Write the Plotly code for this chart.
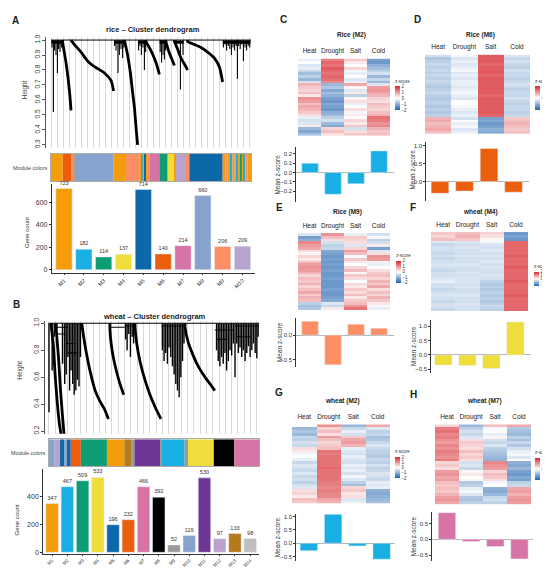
import plotly.graph_objects as go
import numpy as np

FONT = "Liberation Sans, Arial, Helvetica, sans-serif"
W, H = 550, 568

# ---------------- data ----------------
conditions = ["Heat", "Drought", "Salt", "Cold"]

rice_modules = ["M1", "M2", "M3", "M4", "M5", "M6", "M7", "M8", "M9", "M10"]
rice_counts = [723, 182, 114, 137, 714, 140, 214, 660, 206, 209]

wheat_modules = ["M1", "M2", "M3", "M4", "M5", "M6", "M7", "M8", "M9", "M10",
                 "M11", "M12", "M13", "M14"]
wheat_counts = [347, 467, 509, 533, 196, 232, 466, 392, 52, 119, 530, 97, 133, 98]

# module colour strips under the dendrograms (module, relative width)
rice_strip_modules = ["M1", "M6", "M9", "M1", "M8", "M1", "M9", "M1", "M2", "M9", "M5",
                      "M1", "M9", "M7", "M3", "M4", "M1", "M10", "M9", "M5", "M1", "M9",
                      "M1", "M2", "M1", "M9", "M2", "M1", "M3", "M1", "M2", "M9", "M1"]
rice_strip_widths = [35, 25, 6, 4, 118, 37, 40, 6, 4, 6, 4, 5, 5, 30, 25, 20, 5, 30, 10,
                     100, 9, 6, 9, 5, 6, 6, 4, 9, 3, 6, 5, 6, 11]

wheat_strip_modules = ["M10", "M12", "M5", "M10", "M5", "M6", "M3", "M1", "M13", "M9",
                       "M11", "M9", "M2", "M9", "M4", "M8", "M7"]
wheat_strip_widths = [17, 16, 12, 8, 12, 30, 78, 52, 20, 10, 78, 4, 68, 10, 77, 61, 74]

# rice dendrogram (leaf position 0-100, height)
rice_cascade_x = [[5.8, 6.5, 7.5, 8.5, 9.5, 10.0],
                  [10.0, 11.7, 15.0, 18.3, 20.8, 23.3, 26.7, 30.0, 31.3],
                  [36.7, 38.3, 39.7, 40.8, 41.7, 42.5, 43.3],
                  [47.5, 50.0, 52.5, 54.2],
                  [57.5, 59.0, 60.5, 61.7],
                  [61.7, 63.0, 65.0, 66.7, 68.3],
                  [68.3, 71.7, 75.0, 78.3, 81.7, 84.2, 85.8]]
rice_cascade_h = [[0.99, 0.93, 0.85, 0.75, 0.62, 0.53],
                  [1.0, 0.97, 0.92, 0.86, 0.83, 0.81, 0.78, 0.73, 0.66],
                  [1.0, 0.90, 0.78, 0.65, 0.55, 0.42, 0.30],
                  [0.99, 0.93, 0.85, 0.77],
                  [0.99, 0.92, 0.87, 0.83],
                  [0.99, 0.95, 0.88, 0.84, 0.80],
                  [0.99, 0.97, 0.95, 0.92, 0.88, 0.82, 0.72]]
rice_spike_x = [[0.5, 1.2, 1.8, 2.5, 3.2, 3.8, 4.5, 5.2],
                [31.8, 32.5, 33.5, 34.2, 35.0, 35.8, 36.4],
                [43.8, 44.5, 45.2, 46.0, 46.7, 47.3],
                [54.6, 55.3, 56.0, 56.7, 57.3],
                [62.5, 64.7, 66.0],
                [86.2, 87.0, 87.8, 88.6, 89.4, 90.2, 91.0, 91.8, 92.6, 93.2],
                [93.8, 94.6, 95.4, 96.2, 97.0, 97.8, 98.6, 99.4]]
rice_spike_h = [[0.95, 0.52, 0.93, 0.90, 0.78, 0.94, 0.92, 0.95],
                [0.96, 0.93, 0.78, 0.90, 0.94, 0.88, 0.95],
                [0.93, 0.96, 0.90, 0.95, 0.80, 0.92],
                [0.92, 0.85, 0.90, 0.87, 0.93],
                [0.95, 0.67, 0.90],
                [0.95, 0.97, 0.93, 0.96, 0.94, 0.90, 0.95, 0.93, 0.96, 0.74],
                [0.96, 0.94, 0.97, 0.86, 0.95, 0.93, 0.96, 0.95]]

# wheat dendrogram
wheat_cascade_x = [[1.0, 2.0, 3.0, 4.0, 5.0, 5.8],
                   [3.5, 4.5, 5.5, 6.5, 7.2],
                   [15.6, 16.5, 17.8, 19.8, 22.0, 24.3, 26.5, 28.3],
                   [29.0, 29.6, 30.6, 32.2, 33.8, 35.6],
                   [41.0, 41.8, 43.3, 45.7, 48.1, 50.5, 53.3],
                   [64.8, 66.3, 68.7, 71.1, 74.3, 76.7, 79.0]]
wheat_cascade_h = [[0.99, 0.85, 0.60, 0.40, 0.25, 0.17],
                   [0.95, 0.75, 0.50, 0.30, 0.17],
                   [1.0, 0.90, 0.78, 0.63, 0.50, 0.42, 0.36, 0.29],
                   [0.96, 0.85, 0.75, 0.64, 0.55, 0.47],
                   [0.97, 0.85, 0.72, 0.58, 0.47, 0.38, 0.29],
                   [0.97, 0.86, 0.76, 0.68, 0.60, 0.55, 0.50]]
wheat_spike_x = [[0.0, 1.5, 2.5, 6.5, 7.5, 8.2, 9.0, 9.8, 10.5, 11.3, 12.0, 12.8, 13.5, 14.3, 15.0],
                 [36.5, 37.2, 38.0, 38.8, 39.6, 40.3],
                 [54.0, 54.8, 55.6, 56.4, 57.2, 58.0, 58.8, 59.6, 60.4, 61.2, 62.0, 62.8, 63.6, 64.3],
                 [79.8, 80.6, 81.4, 82.2, 83.0, 83.8, 84.6, 85.4, 86.2, 87.0, 87.8],
                 [88.6, 89.4, 90.2, 91.0, 91.8, 92.6, 93.4, 94.2, 95.0, 95.8, 96.6, 97.4, 98.2, 99.0, 99.6]]
wheat_spike_h = [[0.34, 0.65, 0.90, 0.70, 0.55, 0.62, 0.75, 0.50, 0.65, 0.55, 0.47, 0.50, 0.58, 0.53, 0.75],
                 [0.88, 0.80, 0.92, 0.75, 0.90, 0.85],
                 [0.80, 0.72, 0.78, 0.70, 0.82, 0.75, 0.68, 0.62, 0.55, 0.50, 0.45, 0.60, 0.72, 0.85],
                 [0.80, 0.72, 0.68, 0.75, 0.70, 0.78, 0.65, 0.72, 0.80, 0.76, 0.85],
                 [0.60, 0.85, 0.78, 0.82, 0.75, 0.80, 0.72, 0.78, 0.83, 0.75, 0.80, 0.85, 0.78, 0.74, 0.90]]
wheat_link_x0 = [2.5, 4.0, 8.0, 9.0, 29.0, 36.0, 53.5, 79.0, 80.0, 88.6, 89.0]
wheat_link_x1 = [9.0, 8.0, 12.0, 14.0, 36.0, 41.0, 64.5, 88.0, 85.0, 100.0, 96.0]
wheat_link_h = [0.97, 0.92, 0.85, 0.78, 0.97, 0.98, 0.98, 0.95, 0.88, 0.98, 0.90]

# heatmap rows (Heat, Drought, Salt, Cold)
c_rows = [[-0.2, 1.2, 0.5, -1.2], [0.0, 1.4, 0.2, -1.3], [-0.3, 1.3, 0.0, -1.0], [-0.2, 1.5, 0.4, -0.8],
          [-0.5, 1.4, -0.1, -0.6], [-0.8, 1.3, -0.2, -0.4], [-0.6, 1.4, 0.0, -0.9], [-0.9, 1.3, -0.3, -0.5],
          [-0.4, 1.1, -0.2, -0.9], [0.7, -0.9, 0.8, -0.3], [0.5, -0.7, 0.1, 0.9], [0.4, -1.1, -0.3, 1.0],
          [0.6, -0.8, 0.2, 0.8], [0.2, -1.0, -0.6, 0.7], [1.0, -1.2, 0.1, 0.4], [0.9, -1.3, 0.3, 0.3],
          [0.6, -1.1, -0.2, 0.6], [0.8, -1.2, 0.0, 0.5], [0.7, -1.3, 0.3, 0.4], [0.5, -1.0, -0.1, 0.6],
          [0.3, -0.9, 0.2, 0.7], [-0.2, -0.6, 0.0, 1.3], [-0.4, -0.4, 0.4, 1.2], [-0.3, -0.9, 0.2, 1.0],
          [0.2, -1.1, 0.5, 1.1], [-0.9, 0.4, -0.4, 0.7], [-1.1, 0.6, 0.3, 0.5], [-0.8, 0.3, 0.5, 0.6]]
d_rows = [[-0.4, -0.1, 1.5, -0.3], [-0.7, -0.3, 1.5, -0.5], [-0.6, -0.2, 1.5, -0.4], [-0.5, -0.3, 1.4, -0.5],
          [-0.6, -0.2, 1.5, -0.6], [-0.5, -0.1, 1.5, -0.4], [-0.6, -0.3, 1.5, -0.5], [-0.5, -0.2, 1.4, -0.5],
          [-0.6, -0.3, 1.5, -0.6], [-0.5, -0.2, 1.5, -0.5], [-0.6, -0.2, 1.5, -0.4], [-0.7, -0.3, 1.5, -0.5],
          [-0.6, -0.2, 1.5, -0.6], [-0.5, -0.1, 1.5, -0.5], [-0.6, -0.2, 1.4, -0.5], [-0.7, -0.3, 1.5, -0.4],
          [-0.6, 0.0, 1.5, -0.5], [-0.6, 0.0, 1.5, -0.6], [-0.7, -0.1, 1.5, -0.5], [-0.6, -0.2, 1.5, -0.5],
          [-0.7, -0.3, 1.5, -0.6], [-0.6, -0.2, 1.4, -0.5], [0.7, -0.4, -1.2, 0.5], [0.8, 0.0, -1.1, 0.6],
          [0.6, -0.2, -1.3, 0.7], [0.7, -0.1, -1.2, 0.6], [0.8, -0.3, -1.0, 0.5], [0.6, -0.2, -1.1, 0.6]]
e_rows = [[-0.3, 1.0, -0.2, -0.4], [-1.2, 0.6, 0.5, -0.1], [-1.0, 0.3, 0.4, -0.6], [1.1, -0.4, 0.3, -0.4],
          [0.9, -0.6, -0.3, 0.2], [0.8, -0.5, 0.4, -1.2], [0.3, -1.1, 0.9, -0.3], [0.1, -1.2, 0.6, 0.3],
          [0.4, -1.3, -0.1, 1.0], [0.2, -1.2, 0.5, 0.9], [0.6, -1.3, 0.2, 0.1], [0.9, -1.2, 0.0, -0.2],
          [1.0, -1.3, 0.4, 0.0], [0.9, -1.2, 0.6, 0.3], [0.7, -1.3, 0.1, 0.5], [0.4, -1.3, 0.5, 0.6],
          [0.6, -1.2, 0.3, 0.4], [0.5, -1.3, 0.0, 0.7], [0.7, -1.3, 0.4, 0.5], [0.4, -1.3, 0.2, 0.8],
          [0.6, -1.2, 0.5, 0.3], [0.8, -1.3, 0.3, 0.6], [0.5, -1.3, 0.6, 0.4], [0.7, -1.2, 0.2, 0.7],
          [0.6, -1.1, 0.5, 0.5], [-0.6, -0.3, 0.6, 0.2], [-0.8, -0.5, 1.0, -0.1], [-0.7, 0.2, 1.3, -0.2]]
f_rows = [[0.5, 0.6, 0.4, -1.3], [0.4, 0.7, 0.3, -1.2], [0.6, 0.5, 0.1, -1.3], [-0.3, -0.3, -0.1, 1.4],
          [-0.5, -0.4, -0.3, 1.4], [-0.4, -0.3, -0.4, 1.4], [-0.4, -0.4, -0.3, 1.4], [-0.5, -0.4, -0.4, 1.4],
          [-0.4, -0.3, -0.3, 1.5], [-0.5, -0.4, -0.4, 1.4], [-0.4, -0.4, -0.3, 1.4], [-0.3, -0.3, -0.4, 1.4],
          [-0.4, -0.4, -0.3, 1.5], [-0.5, -0.4, -0.4, 1.4], [-0.4, -0.3, -0.4, 1.4], [-0.4, -0.4, -0.3, 1.4],
          [-0.3, -0.3, -0.4, 1.4], [-0.2, -0.3, -0.6, 1.5], [-0.4, -0.4, -0.7, 1.4], [-0.4, -0.3, -0.6, 1.4],
          [-0.5, -0.4, -0.7, 1.4], [-0.4, -0.4, -0.6, 1.4], [-0.3, -0.3, -0.7, 1.5], [-0.4, -0.4, -0.6, 1.4],
          [-0.5, -0.4, -0.7, 1.4], [-0.4, -0.3, -0.6, 1.4], [-0.4, -0.4, -0.5, 1.4], [-0.5, -0.4, -0.6, 1.4]]
g_rows = [[0.0, 1.0, -0.9, 0.8], [-0.9, 0.4, -0.5, -0.3], [-0.7, 0.6, -0.2, -0.6], [-0.9, 0.3, -0.4, -0.5],
          [-0.5, 0.9, 0.5, -0.8], [-0.6, 0.6, 0.8, -0.7], [-0.4, 0.4, 0.9, -0.5], [-0.5, 0.5, 0.7, -0.3],
          [0.3, 0.6, -0.2, -0.5], [0.2, 1.3, -0.3, -0.6], [-0.1, 1.2, -0.4, -0.6], [0.0, 1.3, -0.2, -0.7],
          [-0.2, 1.3, -0.3, -0.5], [-0.5, 1.3, -0.4, -0.6], [-0.3, 1.3, -0.2, -0.4], [-0.4, 1.4, -0.3, -0.6],
          [-0.5, 1.3, -0.2, -0.5], [-0.3, 1.3, -0.4, -0.3], [-0.5, 1.3, -0.1, -0.4], [-0.4, 1.3, -0.3, -0.5],
          [-0.6, 1.2, -0.6, -0.2], [-0.4, 1.2, -0.8, -0.3], [-0.3, 1.1, 0.4, -0.2], [0.3, 1.2, 0.5, -1.0],
          [0.4, 1.1, 0.2, -1.1], [0.2, 1.1, 0.3, -1.0], [0.6, 0.8, -0.3, -0.9], [0.5, 0.7, -0.2, -0.8]]
h_rows = [[0.4, -0.9, 0.6, 0.8], [1.2, -0.6, -0.1, -0.7], [1.3, -0.4, 0.0, -0.8], [1.1, -0.5, -0.2, -0.9],
          [1.2, -0.3, 0.1, -0.6], [1.0, 0.3, -0.4, -0.8], [0.9, 0.5, -0.5, -0.5], [1.1, 0.4, -0.3, -0.7],
          [1.0, 0.3, -0.6, -0.4], [1.2, 0.6, -0.7, -0.2], [1.1, 0.4, -0.8, -0.1], [1.0, 0.5, -0.9, -0.3],
          [1.2, 0.3, -1.0, 0.0], [0.4, -0.4, 1.1, -1.0], [0.5, -0.3, 1.0, -1.1], [0.3, -0.5, 0.9, -0.9],
          [0.9, 0.1, 0.4, -1.2], [1.0, 0.2, 0.6, -1.3], [0.8, 0.0, 0.5, -1.1], [0.9, 0.1, 0.3, -1.2],
          [0.6, -0.7, -0.1, -0.6], [0.5, -0.6, 0.0, -0.5], [0.6, -0.2, -1.0, 0.8], [0.5, -0.1, -1.1, 0.9],
          [0.7, -0.3, -0.9, 0.7], [0.9, -0.7, -0.5, 0.9], [1.0, -0.8, -0.4, 1.0], [0.8, -0.6, -0.6, 0.9]]

# mean z-score per condition
c_means = [0.10, -0.23, -0.12, 0.23]
d_means = [-0.33, -0.27, 0.92, -0.30]
e_means = [0.28, -0.60, 0.22, 0.14]
f_means = [-0.35, -0.37, -0.47, 1.15]
g_means = [-0.28, 1.08, -0.10, -0.60]
h_means = [0.84, -0.07, -0.23, -0.62]

# ---------------- styles ----------------
rice_palette = {"M1": "#F59C0B", "M2": "#1AAFE3", "M3": "#0E9C74", "M4": "#EEDD3A", "M5": "#0D68A9",
                "M6": "#EA5E0E", "M7": "#D873A5", "M8": "#88A2CE", "M9": "#FC8E63", "M10": "#B9A2CB"}
wheat_palette = {"M1": "#F59C0B", "M2": "#1AAFE3", "M3": "#0E9C74", "M4": "#EEDD3A", "M5": "#0D68A9",
                 "M6": "#EA5E0E", "M7": "#D873A5", "M8": "#000000", "M9": "#9A9A9A", "M10": "#88A2CE",
                 "M11": "#6E3695", "M12": "#B9A2CB", "M13": "#B47A1C", "M14": "#BEBEBE"}
zscale = [[0, "#1f62ad"], [0.5, "#ffffff"], [1, "#d7262b"]]


def xr(n):
    return "x" if n == 1 else f"x{n}"


def yr(n):
    return "y" if n == 1 else f"y{n}"


def xkey(n):
    return "xaxis" if n == 1 else f"xaxis{n}"


def ykey(n):
    return "yaxis" if n == 1 else f"yaxis{n}"


def dom_x(x0, x1):
    return [x0 / W, x1 / W]


def dom_y(y0, y1):
    return [1 - y1 / H, 1 - y0 / H]


fig = go.Figure()
layout = dict(width=W, height=H, margin=dict(l=0, r=0, t=0, b=0), paper_bgcolor="white",
              plot_bgcolor="white", showlegend=False, barmode="overlay",
              font=dict(family=FONT, color="#222", size=7))
annotations = []


def set_axes(n, xa, ya):
    layout[xkey(n)] = dict(anchor=yr(n), **xa)
    layout[ykey(n)] = dict(anchor=xr(n), **ya)


def text(x, y, s, size=7, bold=False, angle=0, anchor="center", color="#222"):
    annotations.append(dict(x=x / W, y=1 - y / H, xref="paper", yref="paper", text=f"<b>{s}</b>" if bold else s,
                            showarrow=False, font=dict(size=size, color=color, family=FONT),
                            textangle=angle, xanchor=anchor, yanchor="middle"))


def add_dendrogram(n, casc_x, casc_h, spk_x, spk_h, caps, spike_w, lx0=(), lx1=(), lh=()):
    kw = dict(xaxis=xr(n), yaxis=yr(n), hoverinfo="skip", mode="lines")
    fig.add_trace(go.Scatter(x=[0, 100], y=[1.0, 1.0], line=dict(color="black", width=1), **kw))
    xs, ys = [], []
    for gx, gh in zip(spk_x, spk_h):
        for sx, sh in zip(gx, gh):
            xs += [sx, sx, None]
            ys += [1.0, sh, None]
    fig.add_trace(go.Scatter(x=xs, y=ys, line=dict(color="black", width=spike_w), **kw))
    if caps:
        cx, cy = [], []
        for gx in spk_x:
            cx += [min(gx) - 0.3, max(gx) + 0.3, None]
            cy += [0.985, 0.985, None]
        fig.add_trace(go.Scatter(x=cx, y=cy, line=dict(color="black", width=3), **kw))
    if len(lh):
        bx, by = [], []
        for a, b, h in zip(lx0, lx1, lh):
            bx += [a, b, None]
            by += [h, h, None]
        fig.add_trace(go.Scatter(x=bx, y=by, line=dict(color="black", width=1.1), **kw))
    for cxs, chs in zip(casc_x, casc_h):
        fig.add_trace(go.Scatter(x=[cxs[0]] + cxs, y=[1.0] + chs,
                                 line=dict(color="black", width=2.8, shape="spline", smoothing=0.6), **kw))


def dendro_axes(n, xd, xrange_, yd, yrange, ticks):
    set_axes(n,
             dict(domain=xd, range=xrange_, showgrid=True, gridcolor="#d9d9d9", gridwidth=0.6,
                  dtick=3, tick0=0, showticklabels=False, zeroline=False, showline=False, ticks=""),
             dict(domain=yd, range=yrange, tickvals=ticks, ticktext=[f"{t:.1f}" for t in ticks],
                  tickangle=-90, tickfont=dict(size=6.5, color="#333"), ticks="outside", ticklen=3,
                  tickcolor="#555", showline=True, linecolor="#555", linewidth=0.6, showgrid=False,
                  zeroline=False))


def strip(n, mods, widths, palette, xd, yd):
    base = np.cumsum([0] + widths[:-1]).tolist()
    fig.add_trace(go.Bar(x=widths, y=[0] * len(widths), base=base, orientation="h", width=1,
                         marker=dict(color=[palette[m] for m in mods], line=dict(width=0)),
                         xaxis=xr(n), yaxis=yr(n), hoverinfo="skip"))
    common = dict(showticklabels=False, showgrid=False, zeroline=False, showline=True, mirror=True,
                  linecolor="#aaaaaa", linewidth=0.5, ticks="")
    set_axes(n, dict(domain=xd, range=[0, sum(widths)], **common),
             dict(domain=yd, range=[-0.5, 0.5], **common))


def count_bars(n, mods, counts, palette, xd, yd, xrange_, yrange_, yticks, xfont):
    fig.add_trace(go.Bar(x=mods, y=counts, width=0.82, marker=dict(color=[palette[m] for m in mods]),
                         text=[str(c) for c in counts], textposition="outside", cliponaxis=False,
                         textfont=dict(size=5.5, color="#333"), xaxis=xr(n), yaxis=yr(n)))
    set_axes(n,
             dict(domain=xd, range=xrange_, type="category", tickangle=-45,
                  tickfont=dict(size=xfont, color="#333"), ticks="outside", ticklen=1.5, tickcolor="#333",
                  showline=True, linecolor="#333", linewidth=0.6, showgrid=False, zeroline=False),
             dict(domain=yd, range=yrange_, tickvals=yticks, tickfont=dict(size=7, color="#333"),
                  ticks="outside", ticklen=2, tickcolor="#333", showline=True, linecolor="#333",
                  linewidth=0.6, showgrid=False, zeroline=False))


# ---- panel A ----
add_dendrogram(1, rice_cascade_x, rice_cascade_h, rice_spike_x, rice_spike_h, caps=True, spike_w=1.1)
dendro_axes(1, dom_x(38, 245), [-2.5, 101], dom_y(26.3, 138), [0.28, 1.02],
            [0.3, 0.4, 0.5, 0.6, 0.7, 0.8, 0.9, 1.0])
strip(2, rice_strip_modules, rice_strip_widths, rice_palette, dom_x(43, 243), dom_y(144, 172))
count_bars(3, rice_modules, rice_counts, rice_palette, dom_x(43.7, 246.8), dom_y(174.9, 264.4),
           [-0.62, 9.62], [-30, 760], [0, 200, 400, 600], 5.5)
text(7, 10, "A", size=10, bold=True)
text(145, 19, "rice – Cluster dendrogram", size=7.5, bold=True)
text(17, 80, "Height", size=6.5, angle=-90, color="#444")
text(41, 158, "Module colors", size=5.5, anchor="right", color="#444")
text(19, 224, "Gene count", size=6, angle=-90, color="#333")

# ---- panel B ----
add_dendrogram(4, wheat_cascade_x, wheat_cascade_h, wheat_spike_x, wheat_spike_h, caps=False, spike_w=1.4,
               lx0=wheat_link_x0, lx1=wheat_link_x1, lh=wheat_link_h)
dendro_axes(4, dom_x(37, 252), [-1.9, 100.5], dom_y(312.3, 426.5), [0.18, 1.02], [0.2, 0.4, 0.6, 0.8, 1.0])
strip(5, wheat_strip_modules, wheat_strip_widths, wheat_palette, dom_x(41, 251), dom_y(432, 459))
count_bars(6, wheat_modules, wheat_counts, wheat_palette, dom_x(35, 251.3), dom_y(462.5, 547.5),
           [-0.6, 13.6], [-10, 590], [0, 200, 400], 4.6)
text(8, 296, "B", size=10, bold=True)
text(146, 308, "wheat – Cluster dendrogram", size=7.5, bold=True)
text(12, 363, "Height", size=6.5, angle=-90, color="#444")
text(39, 446, "Module colors", size=5.5, anchor="right", color="#444")
text(9, 514, "Gene count", size=6, angle=-90, color="#333")

# ---- panels C-H ----
panels = [
    dict(letter="C", title="Rice (M2)", z=c_rows, m=c_means, col=rice_palette["M2"],
         heat=(290, 382, 48, 126), cb=(387, 66, 100), bar=(288, 386, 137, 193), yr=(-0.316, 0.274),
         xr=(-0.61, 3.65), ticks=[-0.2, -0.1, 0.0, 0.1, 0.2], tpos=(343, 24), lpos=(275, 9), ypos=(270, 165)),
    dict(letter="D", title="Rice (M6)", z=d_rows, m=d_means, col=rice_palette["M6"],
         heat=(417, 522, 44, 124), cb=(527, 66, 100), bar=(418, 521, 132, 192), yr=(-0.556, 1.11),
         xr=(-0.57, 3.63), ticks=[0.0, 0.5, 1.0], tpos=(472, 24), lpos=(409, 9), ypos=(405, 160)),
    dict(letter="E", title="Rice (M9)", z=e_rows, m=e_means, col=rice_palette["M9"],
         heat=(290, 382, 224, 302), cb=(388, 242, 274), bar=(288, 386, 310, 359), yr=(-0.64, 0.34),
         xr=(-0.61, 3.65), ticks=[-0.5, 0.0], tpos=(339, 203), lpos=(271, 198), ypos=(271, 334)),
    dict(letter="F", title="wheat (M4)", z=f_rows, m=f_means, col=wheat_palette["M4"],
         heat=(423, 520, 223, 303), cb=(526, 253, 277), bar=(423, 523, 312, 365), yr=(-0.62, 1.21),
         xr=(-0.52, 3.65), ticks=[-0.5, 0.0, 0.5, 1.0], tpos=(472, 203), lpos=(405, 198), ypos=(405, 338)),
    dict(letter="G", title="wheat (M2)", z=g_rows, m=g_means, col=wheat_palette["M2"],
         heat=(284, 382, 417, 497), cb=(387, 440, 471), bar=(288, 387, 507, 555), yr=(-0.67, 1.11),
         xr=(-0.53, 3.55), ticks=[-0.5, 0.0, 0.5, 1.0], tpos=(334, 393), lpos=(271, 385), ypos=(269, 531)),
    dict(letter="H", title="wheat (M7)", z=h_rows, m=h_means, col=wheat_palette["M7"],
         heat=(427, 523, 417, 498), cb=(527, 441, 473), bar=(424, 525, 505, 555), yr=(-0.69, 0.875),
         xr=(-0.62, 3.56), ticks=[-0.5, 0.0, 0.5], tpos=(476, 393), lpos=(405, 387), ypos=(405, 530)),
]

for i, p in enumerate(panels):
    hn, bn = 7 + i, 13 + i
    hx0, hx1, hy0, hy1 = p["heat"]
    cbx, cby0, cby1 = p["cb"]
    fig.add_trace(go.Heatmap(
        z=p["z"], x=conditions, y=list(range(len(p["z"]))), zmin=-2, zmax=2, colorscale=zscale,
        xaxis=xr(hn), yaxis=yr(hn), hoverinfo="skip",
        colorbar=dict(title=dict(text="z-score", side="top", font=dict(size=4.5, color="#333")),
                      thickness=5, lenmode="pixels", len=cby1 - cby0, x=cbx / W, xanchor="left",
                      y=1 - (cby0 + cby1) / 2 / H, yanchor="middle", tickvals=[-2, -1, 0, 1, 2],
                      tickfont=dict(size=4.5, color="#333"), outlinewidth=0, xpad=0, ypad=0, ticks="")))
    set_axes(hn,
             dict(domain=dom_x(hx0, hx1), side="top", ticks="", showline=False, showgrid=False,
                  zeroline=False, tickfont=dict(size=6.5, color="#222"), ticklabelstandoff=3),
             dict(domain=dom_y(hy0, hy1), autorange="reversed", showticklabels=False,
                  showgrid=False, zeroline=False, ticks="", showline=False))

    bx0, bx1, by0, by1 = p["bar"]
    fig.add_trace(go.Bar(x=[0, 1, 2, 3], y=p["m"], width=0.72, marker=dict(color=p["col"]),
                         xaxis=xr(bn), yaxis=yr(bn), hoverinfo="skip"))
    set_axes(bn,
             dict(domain=dom_x(bx0, bx1), range=list(p["xr"]), showticklabels=False,
                  showgrid=False, zeroline=False, showline=False, ticks=""),
             dict(domain=dom_y(by0, by1), range=list(p["yr"]), tickvals=p["ticks"],
                  tickformat=".1f", tickfont=dict(size=6, color="#333"), ticks="outside",
                  ticklen=2, tickcolor="#333", showline=True, linecolor="#333", linewidth=0.6,
                  showgrid=False, zeroline=True, zerolinecolor="#b5b5b5", zerolinewidth=0.8))

    text(p["lpos"][0], p["lpos"][1], p["letter"], size=10, bold=True)
    text(p["tpos"][0], p["tpos"][1], p["title"], size=6.5, bold=True)
    text(p["ypos"][0], p["ypos"][1], "Mean z-score", size=6.5, angle=-90, color="#333")

layout["annotations"] = annotations
fig.update_layout(**layout)
fig.write_html("out.html")
